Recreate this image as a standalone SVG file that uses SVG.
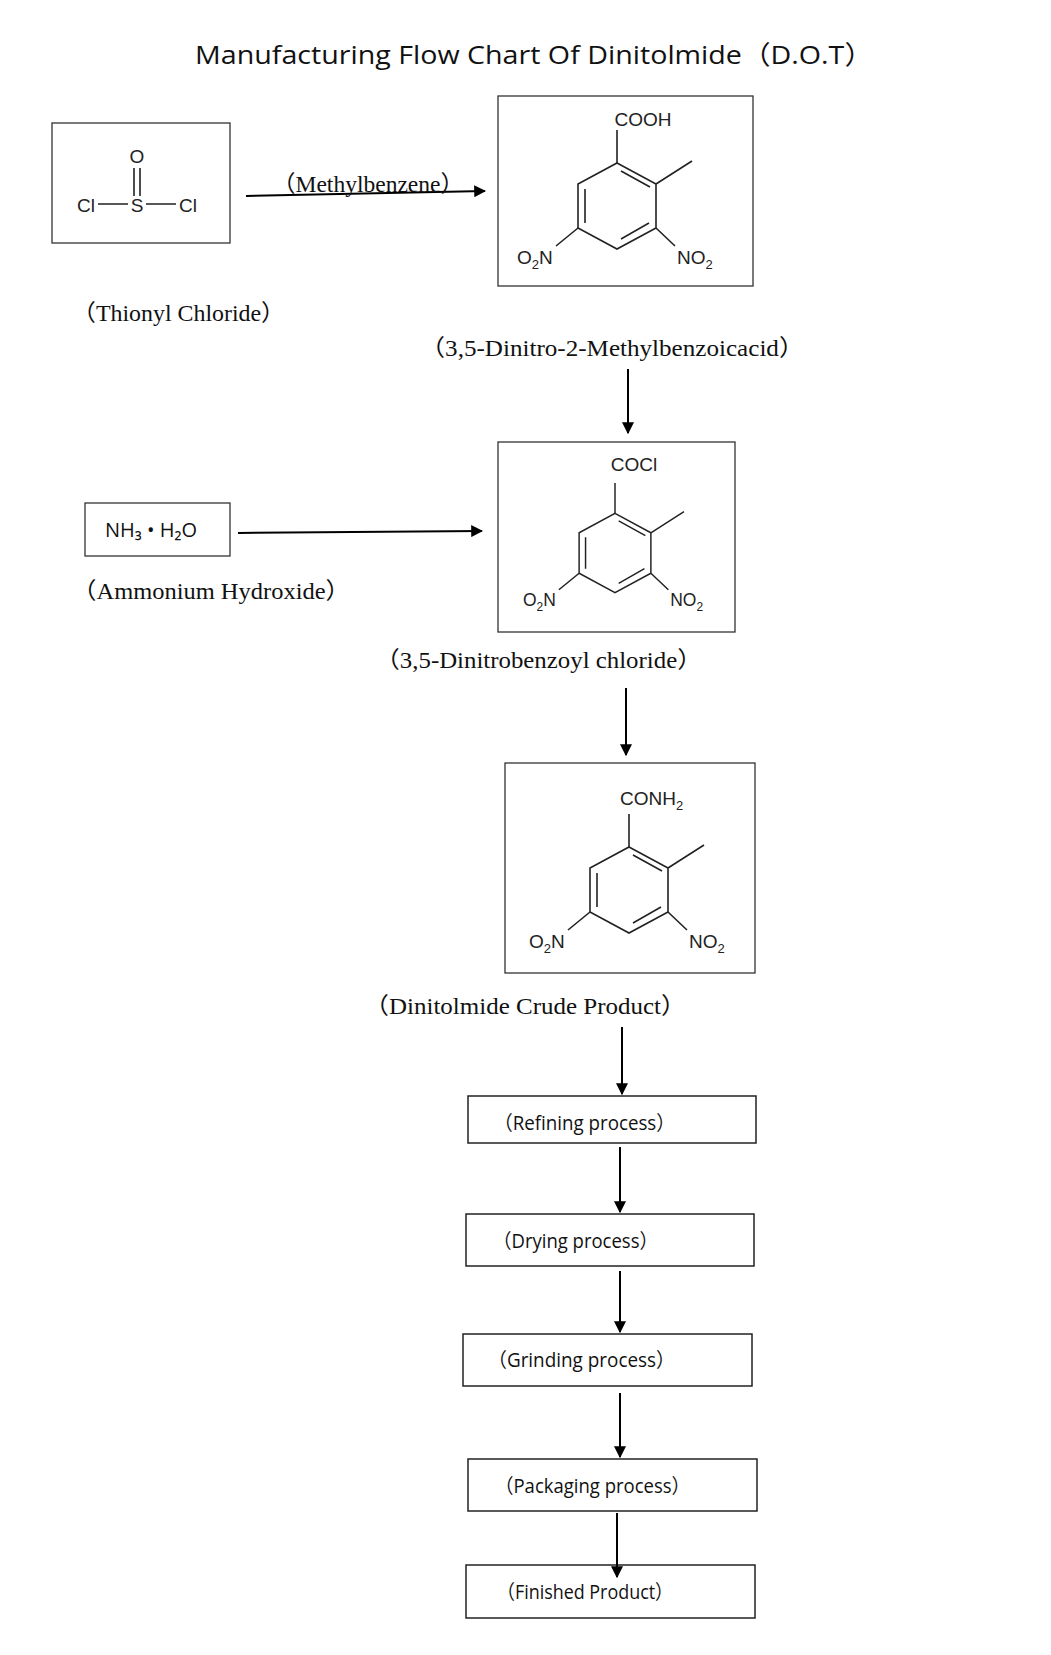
<svg xmlns="http://www.w3.org/2000/svg" width="1051" height="1655" viewBox="0 0 1051 1655">
<style>
.box{fill:#fff;stroke:#333;stroke-width:1.3}
.pbox{fill:#fff;stroke:#222;stroke-width:1.5}
.bond{stroke:#222;stroke-width:1.6;fill:none}
.chem{font-family:"Liberation Sans",Arial,sans-serif;font-size:19px;fill:#222}
.sub{font-size:13px}
.ser{font-family:"Liberation Serif","Noto Sans CJK SC",serif;font-size:23px;fill:#111}
.cal{font-family:"Open Sans","Noto Sans CJK SC",sans-serif;font-size:20px;fill:#111}
.arr{stroke:#000;stroke-width:2;fill:none;marker-end:url(#ah)}
</style>
<defs>
<marker id="ah" viewBox="0 0 10 10" refX="9" refY="5" markerWidth="6" markerHeight="6" orient="auto" markerUnits="strokeWidth"><path d="M0,0 L10,5 L0,10 z" fill="#000"/></marker>
<g id="ring">
<path class="bond" d="M0,-43 L39,-22 L39,22 L0,43 L-39,22 L-39,-22 Z"/>
<path class="bond" d="M4,-35 L33,-19 M32,17 L4,33 M-32,-17 L-32,17"/>
<path class="bond" d="M0,-43 L0,-76 M39,-22 L75,-45 M39,22 L58,40 M-39,22 L-61,40"/>
<text class="chem" x="-100" y="58">O<tspan class="sub" dy="5">2</tspan><tspan dy="-5">N</tspan></text>
<text class="chem" x="60" y="58">NO<tspan class="sub" dy="5">2</tspan></text>
</g>
</defs>
<text x="534" y="64" text-anchor="middle" font-family="Open Sans,'Noto Sans CJK SC',sans-serif" font-size="26" fill="#111" textLength="678" lengthAdjust="spacingAndGlyphs">Manufacturing Flow Chart Of Dinitolmide（D.O.T）</text>

<g id="thionyl">
<rect class="box" x="52" y="123" width="178" height="120"/>
<text class="chem" x="137" y="163" text-anchor="middle" font-size="21">O</text>
<path class="bond" d="M134,168 L134,196 M140,168 L140,196 M98,204 L128,204 M146,204 L176,204"/>
<text class="chem" x="86" y="212" text-anchor="middle" font-size="21">Cl</text>
<text class="chem" x="137" y="212" text-anchor="middle" font-size="21">S</text>
<text class="chem" x="188" y="212" text-anchor="middle" font-size="21">Cl</text>
</g>
<text class="ser" x="72" y="321" textLength="213" lengthAdjust="spacingAndGlyphs">（Thionyl Chloride）</text>

<g id="acid">
<rect class="box" x="498" y="96" width="255" height="190"/>
<use href="#ring" x="617" y="206"/>
<text class="chem" x="643" y="126" text-anchor="middle">COOH</text>
</g>
<text class="ser" x="420" y="356" textLength="384" lengthAdjust="spacingAndGlyphs">（3,5-Dinitro-2-Methylbenzoicacid）</text>

<g id="ammonia">
<rect class="box" x="85" y="503" width="145" height="53"/>
<text class="cal" x="151" y="537" text-anchor="middle" font-size="19">NH₃ • H₂O</text>
</g>
<text class="ser" x="72" y="599" textLength="278" lengthAdjust="spacingAndGlyphs">（Ammonium Hydroxide）</text>

<g id="chloride">
<rect class="box" x="498" y="442" width="237" height="190"/>
<g transform="translate(615,553) scale(0.92)"><use href="#ring"/></g>
<text class="chem" x="634" y="471" text-anchor="middle">COCl</text>
</g>
<text class="ser" x="375" y="668" textLength="327" lengthAdjust="spacingAndGlyphs">（3,5-Dinitrobenzoyl chloride）</text>

<g id="crude">
<rect class="box" x="505" y="763" width="250" height="210"/>
<use href="#ring" x="629" y="890"/>
<text class="chem" x="620" y="805">CONH<tspan class="sub" dy="5">2</tspan></text>
</g>
<text class="ser" x="364" y="1014" textLength="322" lengthAdjust="spacingAndGlyphs">（Dinitolmide Crude Product）</text>

<g id="refining"><rect class="pbox" x="468" y="1096" width="288" height="47"/><text class="cal" x="494" y="1130" textLength="181" lengthAdjust="spacingAndGlyphs">（Refining process）</text></g>
<g id="drying"><rect class="pbox" x="466" y="1214" width="288" height="52"/><text class="cal" x="493" y="1248" textLength="165" lengthAdjust="spacingAndGlyphs">（Drying process）</text></g>
<g id="grinding"><rect class="pbox" x="463" y="1334" width="289" height="52"/><text class="cal" x="488" y="1367" textLength="187" lengthAdjust="spacingAndGlyphs">（Grinding process）</text></g>
<g id="packaging"><rect class="pbox" x="468" y="1459" width="289" height="52"/><text class="cal" x="495" y="1493" textLength="195" lengthAdjust="spacingAndGlyphs">（Packaging process）</text></g>
<g id="finished"><rect class="pbox" x="466" y="1565" width="289" height="53" stroke-width="2.2"/><text class="cal" x="497" y="1599" textLength="176" lengthAdjust="spacingAndGlyphs">（Finished Product）</text></g>

<g id="connectors">
<path class="arr" d="M246,196 L485,191"/>
<text class="ser" x="272" y="192" textLength="192" lengthAdjust="spacingAndGlyphs">（Methylbenzene）</text>
<path class="arr" d="M628,369 L628,433"/>
<path class="arr" d="M238,533 L482,531"/>
<path class="arr" d="M626,688 L626,755"/>
<path class="arr" d="M622,1027 L622,1094"/>
<path class="arr" d="M620,1147 L620,1212"/>
<path class="arr" d="M620,1271 L620,1332"/>
<path class="arr" d="M620,1393 L620,1457"/>
<path class="arr" d="M617,1513 L617,1577"/>
</g>
</svg>
